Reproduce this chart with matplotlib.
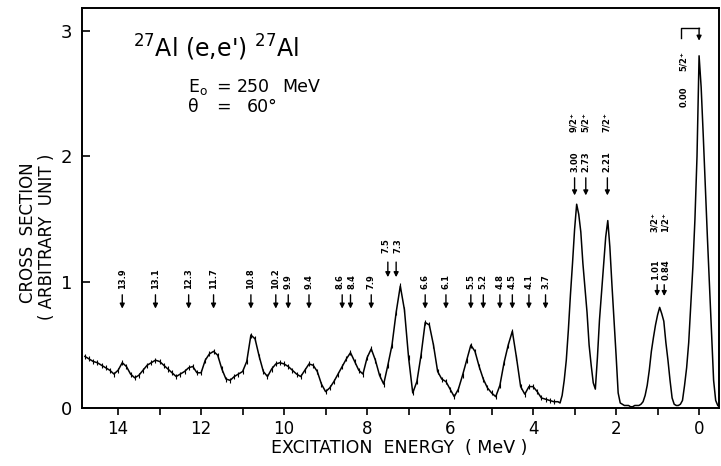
import numpy as np
import matplotlib.pyplot as plt

plt.rcParams['font.family'] = 'DejaVu Sans'
plt.rcParams['mathtext.default'] = 'regular'

# Continuum part of the spectrum, 0.1 MeV bins from 14.8 down to 3.5 MeV
cont_counts = [
    0.41, 0.39, 0.37, 0.36, 0.34, 0.32, 0.30, 0.27, 0.30, 0.36,
    0.33, 0.27, 0.24, 0.26, 0.30, 0.34, 0.36, 0.38, 0.37, 0.34,
    0.31, 0.28, 0.25, 0.27, 0.29, 0.32, 0.33, 0.28, 0.28, 0.38,
    0.43, 0.45, 0.42, 0.31, 0.23, 0.22, 0.25, 0.27, 0.29, 0.37,
    0.58, 0.55, 0.41, 0.29, 0.25, 0.31, 0.35, 0.36, 0.35, 0.33,
    0.30, 0.27, 0.25, 0.30, 0.35, 0.34, 0.29, 0.19, 0.13, 0.16,
    0.21, 0.27, 0.33, 0.39, 0.44, 0.37, 0.30, 0.27, 0.40, 0.47,
    0.38, 0.26, 0.19, 0.34, 0.50, 0.76, 0.97, 0.78, 0.40, 0.12,
    0.21, 0.42, 0.68, 0.66, 0.50, 0.29, 0.23, 0.21, 0.15, 0.09,
    0.15, 0.26, 0.38, 0.50, 0.45, 0.33, 0.23, 0.16, 0.12, 0.09,
    0.18, 0.36, 0.50, 0.61, 0.40, 0.17, 0.11, 0.17, 0.17, 0.13,
    0.08, 0.07, 0.06, 0.05,
]
cont_energy = np.linspace(14.8, 3.5, len(cont_counts))

# Low-lying levels, 0.05 MeV bins from 3.45 down to -0.45 MeV
peak_counts = [
    0.05, 0.05, 0.04, 0.10, 0.22, 0.38, 0.62, 0.90, 1.15, 1.42,
    1.62, 1.54, 1.40, 1.15, 0.95, 0.76, 0.50, 0.34, 0.20, 0.15,
    0.40, 0.70, 0.92, 1.15, 1.36, 1.49, 1.28, 0.98, 0.70, 0.42,
    0.12, 0.04, 0.03, 0.02, 0.02, 0.02, 0.01, 0.01, 0.02, 0.02,
    0.02, 0.03, 0.05, 0.10, 0.18, 0.30, 0.45, 0.56, 0.66, 0.74,
    0.80, 0.75, 0.69, 0.52, 0.38, 0.22, 0.08, 0.03, 0.02, 0.02,
    0.03, 0.06, 0.18, 0.32, 0.52, 0.82, 1.12, 1.50, 2.00, 2.80,
    2.55, 2.17, 1.76, 1.36, 0.98, 0.60, 0.22, 0.06, 0.02,
]
peak_energy = np.linspace(3.45, -0.45, len(peak_counts))

stat_err = 0.02

# level markers
cont_levels = ['13.9', '13.1', '12.3', '11.7', '10.8', '10.2', '9.9', '9.4',
               '8.6', '8.4', '7.9', '6.6', '6.1', '5.5', '5.2', '4.8', '4.5',
               '4.1', '3.7']
pair_levels = ['7.5', '7.3']
upper_levels = ['3.00', '2.73', '2.21']
upper_spins = ['9/2', '5/2', '7/2']
lower_levels = ['1.01', '0.84']
lower_spins = ['3/2', '1/2']
ground_level = '0.00'
ground_spin = '5/2'

fig = plt.figure(figsize=(7.21, 4.66), dpi=100)
ax = fig.add_axes([82 / 721, 58 / 466, 637 / 721, 400 / 466])

energy = np.concatenate([cont_energy, peak_energy])
counts = np.concatenate([cont_counts, peak_counts])
ax.plot(energy, counts, color='k', lw=1.1)
ax.errorbar(cont_energy, cont_counts, yerr=stat_err, fmt='none',
            ecolor='k', elinewidth=0.8, capsize=0)

lbl = dict(rotation=90, ha='center', va='bottom', fontsize=6,
           fontweight='bold')


def mark(e, tail, tip):
    ax.annotate('', xy=(e, tip), xytext=(e, tail),
                arrowprops=dict(arrowstyle='-|>', color='k', lw=1.0,
                                mutation_scale=7, shrinkA=0, shrinkB=0))


def spread(levels, gap=0.045):
    # push labels of close neighbours a little apart so they stay readable
    pos = [float(s) for s in levels]
    out = []
    for i, p in enumerate(pos):
        d = 0.0
        if i > 0 and pos[i - 1] - p < 0.25:
            d -= gap
        if i < len(pos) - 1 and p - pos[i + 1] < 0.25:
            d += gap
        out.append(p + d)
    return out


for s, x in zip(cont_levels, spread(cont_levels)):
    mark(float(s), 0.90, 0.79)
    ax.text(x, 0.95, s, **lbl)

for s, x in zip(pair_levels, spread(pair_levels)):
    mark(float(s), 1.16, 1.04)
    ax.text(x, 1.23, s, **lbl)

for s, j, x in zip(upper_levels, upper_spins, spread(upper_levels, 0.03)):
    mark(float(s), 1.83, 1.69)
    ax.text(x, 1.88, s, **lbl)
    ax.text(x, 2.19, j + '$^{+}$', **lbl)

for s, j, x in zip(lower_levels, lower_spins, spread(lower_levels)):
    mark(float(s), 0.98, 0.89)
    ax.text(x, 1.02, s, **lbl)
    ax.text(x, 1.39, j + '$^{+}$', **lbl)

# ground state: bracket arrow over the elastic peak
g = float(ground_level)
ax.plot([0.43, 0.43, g], [2.94, 3.02, 3.02], color='k', lw=1.0)
mark(g, 3.02, 2.92)
ax.text(0.37, 2.39, ground_level, **lbl)
ax.text(0.37, 2.67, ground_spin + '$^{+}$', **lbl)

ax.set_xlim(14.87, -0.48)
ax.set_ylim(0, 3.18)
ax.set_xticks(range(0, 15, 2))
ax.set_xticks(range(1, 15, 2), minor=True)
ax.set_yticks([0, 1, 2, 3])
ax.tick_params(axis='x', which='both', direction='out', length=5,
               width=1.2, pad=4, labelsize=12)
ax.tick_params(axis='y', direction='in', length=6, width=1.2, pad=7,
               labelsize=13)
for sp in ax.spines.values():
    sp.set_linewidth(1.4)

fig.text(28 / 721, 1 - 233 / 466, 'CROSS  SECTION', rotation=90,
         ha='center', va='center', fontsize=12)
fig.text(47 / 721, 1 - 237 / 466, '( ARBITRARY  UNIT )', rotation=90,
         ha='center', va='center', fontsize=12)
fig.text(399 / 721, 1 - 448 / 466, 'EXCITATION  ENERGY  ( MeV )',
         ha='center', va='center', fontsize=12.5)

fig.text(133 / 721, 1 - 57 / 466, r"$^{27}$Al (e,e') $^{27}$Al",
         ha='left', va='baseline', fontsize=17)
info = dict(ha='left', va='baseline', fontsize=12.5)
fig.text(188 / 721, 1 - 92 / 466, 'E$_{o}$', **info)
fig.text(216 / 721, 1 - 92 / 466, '=', **info)
fig.text(237 / 721, 1 - 92 / 466, '250', **info)
fig.text(282 / 721, 1 - 92 / 466, 'MeV', **info)
fig.text(188 / 721, 1 - 112 / 466, '\u03b8', **info)
fig.text(216 / 721, 1 - 112 / 466, '=', **info)
fig.text(247 / 721, 1 - 112 / 466, '60\u00b0', **info)

fig.savefig('out.png', dpi=100)
